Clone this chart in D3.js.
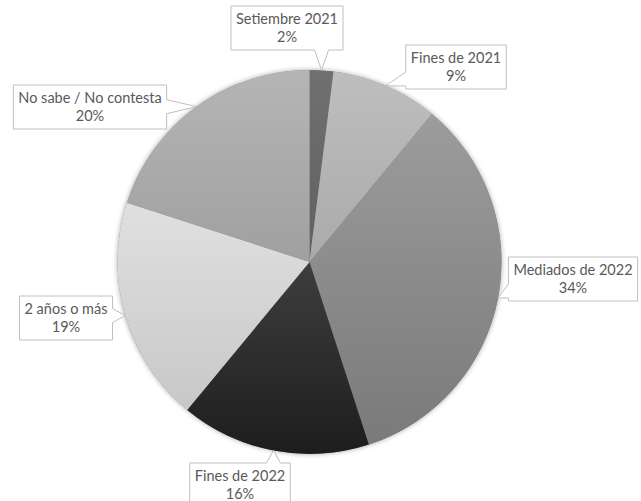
<!DOCTYPE html>
<html>
<head>
<meta charset="utf-8">
<script src="https://cdn.jsdelivr.net/npm/d3@7"></script>
<style>
  html, body { margin: 0; padding: 0; background: #fff; }
  svg { display: block; font-family: Lato, "Open Sans", sans-serif; }
</style>
</head>
<body>
<svg id="chart"></svg>
<script>
const categories = ["Setiembre 2021", "Fines de 2021", "Mediados de 2022", "Fines de 2022", "2 años o más", "No sabe / No contesta"];
const values = [2, 9, 34, 16, 19, 20];
const pctLabels = ["2%", "9%", "34%", "16%", "19%", "20%"];

// shading per slice: [top, bottom]
const fills = [
  ["#707070", "#606060"],
  ["#bebebe", "#aaaaaa"],
  ["#9c9c9c", "#7a7a7a"],
  ["#3e3e3e", "#1d1d1d"],
  ["#e0e0e0", "#c8c8c8"],
  ["#b5b5b5", "#a0a0a0"]
];

// callout box centres
const boxPos = [
  [287, 28], [456, 67], [573, 279], [240, 485], [66, 318], [90, 107]
];

const width = 641, height = 501;
const cx = 309.5, cy = 262, r = 192;

const svg = d3.select("#chart").attr("width", width).attr("height", height);
const defs = svg.append("defs");

const shadow = defs.append("filter").attr("id", "shadow")
  .attr("x", "-10%").attr("y", "-10%").attr("width", "120%").attr("height", "120%");
shadow.append("feDropShadow").attr("dx", 0).attr("dy", 0)
  .attr("stdDeviation", 2.5).attr("flood-color", "#000").attr("flood-opacity", 0.35);

fills.forEach((f, i) => {
  const g = defs.append("linearGradient").attr("id", "grad" + i)
    .attr("x1", "0%").attr("y1", "0%").attr("x2", "0%").attr("y2", "100%");
  g.append("stop").attr("offset", "0%").attr("stop-color", f[0]);
  g.append("stop").attr("offset", "100%").attr("stop-color", f[1]);
});

const data = categories.map((c, i) => ({ name: c, value: values[i], pct: pctLabels[i], i }));

const pie = d3.pie().value(d => d.value).sort(null);
const arc = d3.arc().innerRadius(0).outerRadius(r);
const arcs = pie(data);

const g = svg.append("g").attr("transform", `translate(${cx},${cy})`);

g.append("circle").attr("r", r).attr("fill", "#888").attr("filter", "url(#shadow)");

g.selectAll("path.slice")
  .data(arcs)
  .enter().append("path")
  .attr("class", "slice")
  .attr("d", arc)
  .attr("fill", d => `url(#grad${d.data.i})`);

// callouts
const callouts = svg.append("g");
arcs.forEach(a => {
  const mid = (a.startAngle + a.endAngle) / 2;
  const tip = [cx + r * Math.sin(mid), cy - r * Math.cos(mid)];
  const [bx, by] = boxPos[a.data.i];

  const grp = callouts.append("g");
  const t1 = grp.append("text").attr("x", bx).attr("y", by - 4)
    .attr("text-anchor", "middle").style("font-size", "14.5px").style("fill", "#595959")
    .text(a.data.name);
  const t2 = grp.append("text").attr("x", bx).attr("y", by + 14)
    .attr("text-anchor", "middle").style("font-size", "14.5px").style("fill", "#595959")
    .text(a.data.pct);

  const tw = Math.max(t1.node().getComputedTextLength(), t2.node().getComputedTextLength());
  const w = tw + 10, h = 44;
  const x0 = bx - w / 2, x1 = bx + w / 2, y0 = by - h / 2, y1 = by + h / 2;
  const bw = 7;
  const clamp = (v, lo, hi) => Math.max(lo, Math.min(hi, v));

  let pts;
  if (tip[1] > y1) {
    const c = clamp(tip[0], x0 + 12, x1 - 12);
    pts = [[x0, y0], [x1, y0], [x1, y1], [c + bw, y1], tip, [c - bw, y1], [x0, y1]];
  } else if (tip[1] < y0) {
    const c = clamp(tip[0], x0 + 12, x1 - 12);
    pts = [[x0, y0], [c - bw, y0], tip, [c + bw, y0], [x1, y0], [x1, y1], [x0, y1]];
  } else if (tip[0] < x0) {
    const c = clamp(tip[1], y0 + 10, y1 - 10);
    pts = [[x0, y0], [x1, y0], [x1, y1], [x0, y1], [x0, c + bw], tip, [x0, c - bw]];
  } else {
    const c = clamp(tip[1], y0 + 10, y1 - 10);
    pts = [[x0, y0], [x1, y0], [x1, c - bw], tip, [x1, c + bw], [x1, y1], [x0, y1]];
  }

  grp.insert("path", "text")
    .attr("d", d3.line()(pts) + "Z")
    .attr("fill", "#fff")
    .attr("stroke", "#bfbfbf")
    .attr("stroke-width", 1);
});
</script>
</body>
</html>
